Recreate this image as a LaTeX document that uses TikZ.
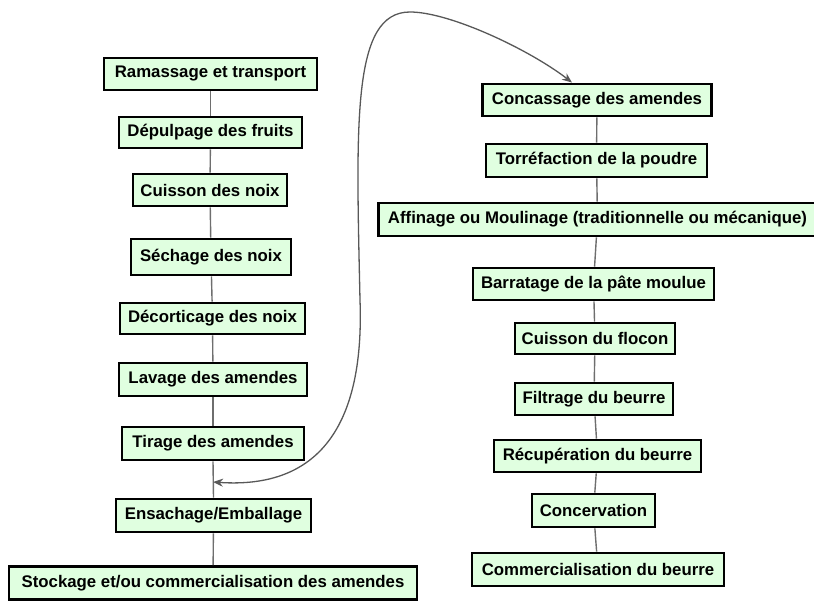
\documentclass[tikz,border=0pt]{standalone}
\usepackage{fontspec}
\setmainfont{Liberation Sans}
\usetikzlibrary{arrows.meta}
\definecolor{boxfill}{RGB}{224,255,224}
\definecolor{linkgray}{RGB}{110,110,110}
\tikzset{
  stepbox/.style={draw=black, line width=2.9pt, fill=boxfill, inner sep=0pt,
    font=\fontsize{16.8}{20}\selectfont\bfseries, align=center, text=black},
  link/.style={draw=linkgray, line width=1.4pt},
  loop/.style={draw=linkgray!80!black, line width=1.3pt, {Stealth[length=10pt,width=8pt]}-{Stealth[length=10pt,width=8pt]}}
}
\begin{document}
\begin{tikzpicture}[x=1pt,y=-1pt]
\useasboundingbox (0,0) rectangle (814,601);
% left column
\node[stepbox, minimum width=213pt, minimum height=32pt] (ram) at (210.5,74) {Ramassage et transport};
\node[stepbox, minimum width=183pt, minimum height=31pt] (dep) at (210.5,132.5) {Dépulpage des fruits};
\node[stepbox, minimum width=154pt, minimum height=32pt] (cui) at (210,190) {Cuisson des noix};
\node[stepbox, minimum width=160pt, minimum height=36pt] (sec) at (211,257) {Séchage des noix};
\node[stepbox, minimum width=185pt, minimum height=31pt] (dec) at (212.5,318.5) {Décorticage des noix};
\node[stepbox, minimum width=188pt, minimum height=33pt] (lav) at (213,379.5) {Lavage des amendes};
\node[stepbox, minimum width=182pt, minimum height=33pt] (tir) at (213,443.5) {Tirage des amendes};
\node[stepbox, minimum width=195pt, minimum height=33pt] (ens) at (213.5,515.5) {Ensachage/Emballage};
\node[stepbox, minimum width=408pt, minimum height=33pt] (sto) at (213,583) {Stockage et/ou commercialisation des amendes};
% right column
\node[stepbox, minimum width=229pt, minimum height=32pt] (conc) at (597,100) {Concassage des amendes};
\node[stepbox, minimum width=221pt, minimum height=33pt] (torr) at (596.5,160.5) {Torréfaction de la poudre};
\node[stepbox, minimum width=438pt, minimum height=33pt] (aff) at (597.5,219.5) {Affinage ou Moulinage (traditionnelle ou mécanique)};
\node[stepbox, minimum width=241pt, minimum height=32pt] (barr) at (593.5,284) {Barratage de la pâte moulue};
\node[stepbox, minimum width=160pt, minimum height=31pt] (cuif) at (595,338.5) {Cuisson du flocon};
\node[stepbox, minimum width=158pt, minimum height=32pt] (filt) at (594,399) {Filtrage du beurre};
\node[stepbox, minimum width=207pt, minimum height=32pt] (recu) at (597.5,456) {Récupération du beurre};
\node[stepbox, minimum width=123pt, minimum height=33pt] (conv) at (593.5,510.5) {Concervation};
\node[stepbox, minimum width=252pt, minimum height=33pt] (comm) at (598,569.5) {Commercialisation du beurre};
% connectors
\draw[link] (ram) -- (dep);
\draw[link] (dep) -- (cui);
\draw[link] (cui) -- (sec);
\draw[link] (sec) -- (dec);
\draw[link] (dec) -- (lav);
\draw[link] (lav) -- (tir);
\draw[link] (tir.south) -- (ens.north);
\draw[link] (ens) -- (sto);
\draw[link] (conc) -- (torr);
\draw[link] (torr) -- (aff);
\draw[link] (aff) -- (barr);
\draw[link] (barr) -- (cuif);
\draw[link] (cuif) -- (filt);
\draw[link] (filt) -- (recu);
\draw[link] (recu) -- (conv);
\draw[link] (conv) -- (comm);
% loop connector
\coordinate (m) at (213,482);
\coordinate (ct) at ([xshift=-25pt]conc.north);
\draw[loop] (m) .. controls (330,490) and (364,410) .. (360,300)
  .. controls (356,120) and (352,12) .. (410,12)
  .. controls (450,12) and (530,50) .. (ct);
\end{tikzpicture}
\end{document}
